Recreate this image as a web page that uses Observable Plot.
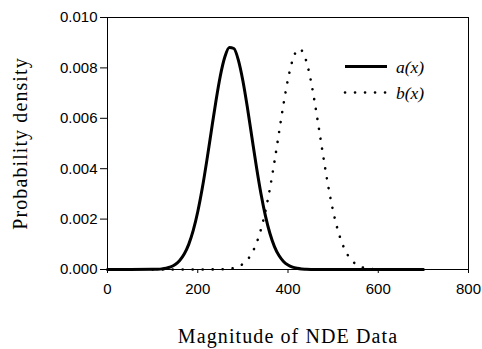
<!DOCTYPE html>
<html>
<head>
<meta charset="utf-8">
<script src="https://cdn.jsdelivr.net/npm/d3@7"></script>
<script src="https://cdn.jsdelivr.net/npm/@observablehq/plot@0.6"></script>
<style>
  html, body { margin: 0; padding: 0; background: #fff; }
  #wrap { position: relative; width: 482px; height: 349px; }
  #legend { position: absolute; left: 0; top: 0; pointer-events: none; }
</style>
</head>
<body>
<div id="wrap"></div>
<script>
// Curve a(x): solid
const aX = [0,50,100,110,120,130,140,150,160,170,180,190,200,210,220,230,240,250,260,270,280,290,300,310,320,330,340,350,360,370,380,390,400,410,420,430,440,460,500,600,700];
const aY = [0,0,0.000005,0.000012,0.000025,0.000053,0.000105,0.000199,0.000358,0.000613,0.000998,0.00155,0.00229,0.00322,0.00431,0.00549,0.00665,0.00768,0.00843,0.00881,0.00877,0.00831,0.00749,0.00643,0.00525,0.00408,0.00302,0.00213,0.00143,0.00091,0.000552,0.000319,0.000176,0.000092,0.000046,0.00002,0.00001,0,0,0,0];
// Curve b(x): dotted
const bX = [100,200,250,260,270,280,290,300,310,320,330,340,350,360,370,380,390,400,410,420,425,430,440,450,460,470,480,490,500,510,520,530,540,550,560,570,580,590,600,650,700];
const bY = [0,0.000001,0.000006,0.000014,0.00003,0.000061,0.000118,0.000218,0.000384,0.000647,0.00104,0.00159,0.00232,0.00322,0.00428,0.00542,0.00655,0.00755,0.0083,0.0087,0.00875,0.0087,0.0083,0.00755,0.00655,0.00542,0.00428,0.00322,0.00232,0.00159,0.00104,0.000647,0.000384,0.000218,0.000118,0.000061,0.00003,0.000014,0.000006,0,0];

const xTicks = [0,200,400,600,800];
const yTicks = [0,0.002,0.004,0.006,0.008,0.010];
const seriesNames = ["a(x)", "b(x)"];
const xTitle = "Magnitude of NDE Data";
const yTitle = "Probability density";

const dataA = aX.map((x, i) => ({x, y: aY[i]}));
const dataB = bX.map((x, i) => ({x, y: bY[i]}));

const serif = "'Liberation Serif', 'Times New Roman', serif";

const chart = Plot.plot({
  width: 482,
  height: 349,
  marginLeft: 107,
  marginRight: 14,
  marginTop: 17,
  marginBottom: 80,
  style: {fontFamily: "'Liberation Sans', Arial, sans-serif", fontSize: "15px", color: "black", background: "white"},
  x: {domain: [0, 800]},
  y: {domain: [0, 0.010]},
  marks: [
    Plot.axisX({ticks: xTicks, tickSize: 4, tickPadding: 10, label: null, stroke: "black"}),
    Plot.axisY({ticks: yTicks, tickFormat: d3.format(".3f"), tickSize: 7, tickPadding: 3, label: null, stroke: "black"}),
    Plot.frame({stroke: "black", strokeWidth: 1}),
    Plot.line(dataB, {x: "x", y: "y", curve: "monotone-x", stroke: "black", strokeWidth: 2.6, strokeDasharray: "0.1,9.9", strokeLinecap: "round"}),
    Plot.line(dataA, {x: "x", y: "y", curve: "monotone-x", stroke: "black", strokeWidth: 3}),
    Plot.text([xTitle], {text: d => d, frameAnchor: "bottom", dy: 73, lineAnchor: "bottom", textAnchor: "middle", fontFamily: serif, fontSize: 20, fill: "black"}),
    Plot.text([yTitle], {text: d => d, frameAnchor: "left", dx: -87, rotate: -90, lineAnchor: "middle", textAnchor: "middle", fontFamily: serif, fontSize: 20, fill: "black"})
  ]
});
document.getElementById("wrap").appendChild(chart);
// letter spacing for titles
chart.querySelectorAll('g[aria-label="text"] text').forEach(t => t.setAttribute("letter-spacing", "1.1"));

// Legend overlay
const ns = "http://www.w3.org/2000/svg";
const leg = document.createElementNS(ns, "svg");
leg.setAttribute("id", "legend");
leg.setAttribute("width", 482);
leg.setAttribute("height", 349);
const styles = [
  {dash: null, width: 3},
  {dash: "0.1,9.9", width: 2.6}
];
seriesNames.forEach((name, i) => {
  const yy = 66.5 + i * 26;
  const ln = document.createElementNS(ns, "line");
  ln.setAttribute("x1", 345); ln.setAttribute("x2", 387);
  ln.setAttribute("y1", yy); ln.setAttribute("y2", yy);
  ln.setAttribute("stroke", "black");
  ln.setAttribute("stroke-width", styles[i].width);
  if (styles[i].dash) { ln.setAttribute("stroke-dasharray", styles[i].dash); ln.setAttribute("stroke-linecap", "round"); }
  leg.appendChild(ln);
  const tx = document.createElementNS(ns, "text");
  tx.setAttribute("x", 396);
  tx.setAttribute("y", yy + 6.5);
  tx.setAttribute("font-family", serif);
  tx.setAttribute("font-style", "italic");
  tx.setAttribute("font-size", 17.5);
  tx.setAttribute("fill", "black");
  tx.textContent = name;
  leg.appendChild(tx);
});
document.getElementById("wrap").appendChild(leg);
</script>
</body>
</html>
